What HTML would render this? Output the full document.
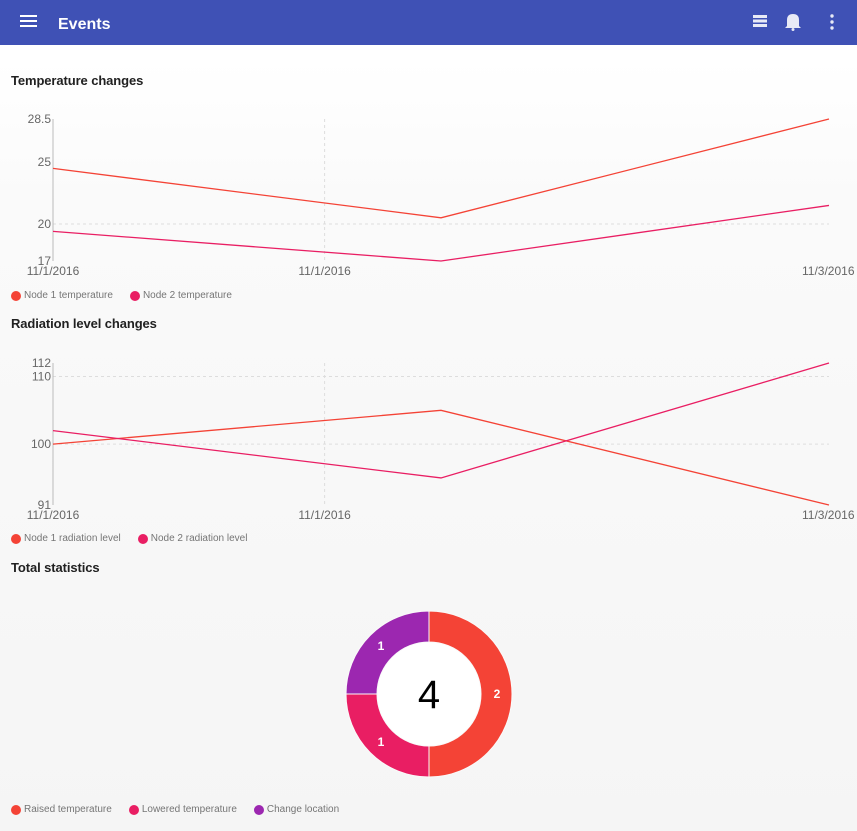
<!DOCTYPE html>
<html><head><meta charset="utf-8"><style>
body{margin:0;width:857px;height:831px;overflow:hidden;font-family:"Liberation Sans",sans-serif;background:linear-gradient(#fff 60px,#fafafa 200px,#f5f5f5 831px);position:relative}
.hdr{position:absolute;left:0;top:0;width:857px;height:45px;background:#3f51b5;color:#fff}
.title{position:absolute;font-size:13px;font-weight:bold;color:#212121;left:11px;letter-spacing:-0.1px}
.leg{position:absolute;font-size:10px;color:#757575;display:flex;align-items:center;left:11px}
.leg span.d{display:inline-block;width:10px;height:10px;border-radius:50%;margin-right:3px}
.leg .it{display:flex;align-items:center;margin-right:17px}
svg text{font-family:"Liberation Sans",sans-serif}
</style></head><body>
<div class="hdr">
 <svg width="857" height="45" style="position:absolute;left:0;top:0">
  <g fill="#fff"><rect x="20" y="15" width="17" height="2"/><rect x="20" y="20" width="17" height="2"/><rect x="20" y="25" width="17" height="2"/></g>
  <text x="58" y="29" font-size="16" font-weight="bold" fill="#fff">Events</text>
  <g fill="#e8eaf6"><rect x="753" y="15" width="14" height="3"/><rect x="753" y="19.5" width="14" height="3"/><rect x="753" y="24" width="14" height="3"/></g>
  <g fill="#e8eaf6"><path d="M787 26 L787 20 Q787 14 793 14 Q799 14 799 20 L799 26 L801 28 L785 28 Z"/><circle cx="793" cy="29.5" r="1.5"/></g>
  <g fill="#e8eaf6"><circle cx="832" cy="16" r="1.7"/><circle cx="832" cy="22" r="1.7"/><circle cx="832" cy="28" r="1.7"/></g>
 </svg>
</div>

<div class="title" style="top:73px">Temperature changes</div>
<svg id="t" width="857" height="190" style="position:absolute;left:0;top:100px"></svg>
<div class="leg" style="top:290px">
 <div class="it"><span class="d" style="background:#f44336"></span>Node 1 temperature</div>
 <div class="it"><span class="d" style="background:#e91e63"></span>Node 2 temperature</div>
</div>

<div class="title" style="top:316px">Radiation level changes</div>
<svg id="r" width="857" height="190" style="position:absolute;left:0;top:344px"></svg>
<div class="leg" style="top:533px">
 <div class="it"><span class="d" style="background:#f44336"></span>Node 1 radiation level</div>
 <div class="it"><span class="d" style="background:#e91e63"></span>Node 2 radiation level</div>
</div>

<div class="title" style="top:560px">Total statistics</div>
<svg id="p" width="857" height="200" style="position:absolute;left:0;top:594px"></svg>
<div class="leg" style="top:804px">
 <div class="it"><span class="d" style="background:#f44336"></span>Raised temperature</div>
 <div class="it"><span class="d" style="background:#e91e63"></span>Lowered temperature</div>
 <div class="it"><span class="d" style="background:#9c27b0"></span>Change location</div>
</div>

<script>
const tempX = [0, 1, 2];
const tempNode1 = [24.5, 20.5, 28.5];
const tempNode2 = [19.4, 17, 21.5];
const tempTicks = [17, 20, 25, 28.5];
const tempDomain = [17, 28.5];
const radNode1 = [100, 105, 91];
const radNode2 = [102, 95, 112];
const radTicks = [91, 100, 110, 112];
const radDomain = [91, 112];
const xTickPos = [0, 0.7, 2];
const xTickLabels = ["11/1/2016", "11/1/2016", "11/3/2016"];
const pieCategories = ["Raised temperature", "Lowered temperature", "Change location"];
const pieValues = [2, 1, 1];
const pieColors = ["#f44336", "#e91e63", "#9c27b0"];
const NS = "http://www.w3.org/2000/svg";
function mk(svg, tag, attrs){const e=document.createElementNS(NS,tag);for(const k in attrs)e.setAttribute(k,attrs[k]);svg.appendChild(e);return e;}

function lineChart(id, s1, s2, ticks, dom, gridVals, prefix){
 const svg=document.getElementById(id);
 const top=19, bot=161, left=53, right=829;
 const xs=v=>left+(right-left)*v/2;
 const ys=v=>bot-(v-dom[0])/(dom[1]-dom[0])*(bot-top);
 gridVals.forEach(g=>{const l=mk(svg,'line',{x1:left,x2:right,y1:ys(g),y2:ys(g),stroke:'#ddd','stroke-dasharray':'3,3'});
 
 });
 const vg=mk(svg,'line',{x1:xs(xTickPos[1]),x2:xs(xTickPos[1]),y1:top,y2:bot,stroke:'#ddd','stroke-dasharray':'3,3'});
 
 
 const ax=mk(svg,'line',{x1:left,x2:left,y1:top,y2:bot,stroke:'#bbb'});
 
 
 ticks.forEach(t=>{const e=mk(svg,'text',{x:left-2,y:ys(t)+4,'text-anchor':'end','font-size':12,fill:'#666'});e.textContent=t;
 
 });
 xTickPos.forEach((p,i)=>{const e=mk(svg,'text',{x:xs(p),y:bot+14,'text-anchor':i==2?'start':'middle','font-size':12,fill:'#666'});
 if(i==2)e.setAttribute('x',xs(p)-27);
 e.textContent=xTickLabels[i];
 
 });
 [[s1,'#f44336','node1'],[s2,'#e91e63','node2']].forEach(([s,c,n])=>{
  const pl=mk(svg,'polyline',{points:s.map((v,i)=>xs(tempX[i])+','+ys(v)).join(' '),fill:'none',stroke:c,'stroke-width':1.3});
  
  
 });
}
lineChart('t',tempNode1,tempNode2,tempTicks,tempDomain,[20],'temperature');
lineChart('r',radNode1,radNode2,radTicks,radDomain,[100,110],'radiation');

(function(){
 const svg=document.getElementById('p');
 const cx=429, cy=100, R=83, r=52;
 const total=pieValues.reduce((a,b)=>a+b,0);
 let a0=0;
 pieValues.forEach((v,i)=>{
  const a1=a0+v/total*2*Math.PI;
  const pt=(rad,a)=>[cx+rad*Math.sin(a),cy-rad*Math.cos(a)];
  const [x0,y0]=pt(R,a0),[x1,y1]=pt(R,a1),[x2,y2]=pt(r,a1),[x3,y3]=pt(r,a0);
  const lg=(a1-a0)>Math.PI?1:0;
  const p=mk(svg,'path',{d:`M${x0},${y0} A${R},${R} 0 ${lg} 1 ${x1},${y1} L${x2},${y2} A${r},${r} 0 ${lg} 0 ${x3},${y3} Z`,fill:pieColors[i],stroke:'#fafafa','stroke-width':1});
  
  
  const am=(a0+a1)/2;const [lx,ly]=pt(68,am);
  const t=mk(svg,'text',{x:lx,y:ly+4,'text-anchor':'middle','font-size':12,'font-weight':'bold',fill:'#fff'});
  t.textContent=v;
  
  
  a0=a1;
 });
 const c=mk(svg,'circle',{cx:cx,cy:cy,r:r-0.5,fill:'#fff'});
 
 
 const t=mk(svg,'text',{x:cx,y:cy+14,'text-anchor':'middle','font-size':40,fill:'#000'});
 t.textContent=total;
 
 
})();
</script>
</body></html>
